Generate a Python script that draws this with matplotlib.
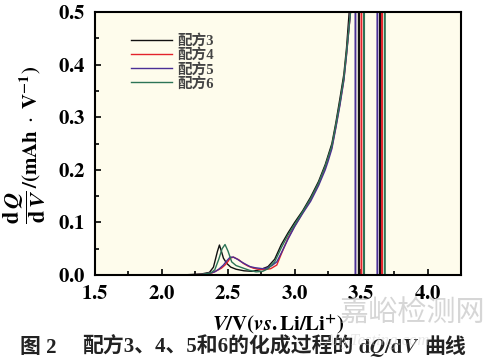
import matplotlib
matplotlib.use("Agg")
import matplotlib.pyplot as plt
from matplotlib.ticker import MultipleLocator, FuncFormatter

plt.rcParams['font.family'] = 'Liberation Serif'
plt.rcParams['mathtext.fontset'] = 'stix'
CJK = ['Liberation Serif', 'Noto Sans CJK SC']

# dQ/dV curves (values above 0.5 are off-scale)
v3 = [2.15, 2.30, 2.36, 2.39, 2.42, 2.435, 2.45, 2.465, 2.49, 2.52, 2.56, 2.62, 2.68, 2.74, 2.80,
      2.85, 2.90, 2.95, 3.00, 3.06, 3.12, 3.18, 3.23, 3.28, 3.31, 3.34, 3.37, 3.39, 3.41, 3.43,
      3.48, 3.48, 3.485, 3.485, 3.64, 3.64, 3.645, 3.645, 3.70]
q3 = [0.0, 0.002, 0.005, 0.015, 0.045, 0.057, 0.045, 0.032, 0.022, 0.015, 0.011, 0.008, 0.007, 0.010, 0.016,
      0.030, 0.058, 0.080, 0.100, 0.122, 0.148, 0.178, 0.210, 0.250, 0.290, 0.335, 0.382, 0.432, 0.500, 0.800,
      2.0, -0.1, -0.1, 2.0, 2.0, -0.1, -0.1, 2.0, 2.0]

v4 = [2.15, 2.30, 2.38, 2.42, 2.45, 2.477, 2.50, 2.515, 2.54, 2.58, 2.615, 2.65, 2.69, 2.73, 2.765,
      2.82, 2.866, 2.90, 2.95, 3.00, 3.06, 3.12, 3.18, 3.23, 3.28, 3.31, 3.34, 3.37, 3.39, 3.42, 3.44,
      3.50, 3.50, 3.504, 3.504, 3.655, 3.655, 3.659, 3.659, 3.70]
q4 = [0.0, 0.001, 0.004, 0.009, 0.013, 0.019, 0.026, 0.032, 0.034, 0.029, 0.022, 0.017, 0.013, 0.011, 0.010,
      0.012, 0.019, 0.040, 0.070, 0.093, 0.118, 0.143, 0.173, 0.205, 0.243, 0.282, 0.325, 0.372, 0.420, 0.500, 0.800,
      2.0, -0.1, -0.1, 2.0, 2.0, -0.1, -0.1, 2.0, 2.0]

v5 = [2.15, 2.30, 2.37, 2.40, 2.43, 2.465, 2.49, 2.515, 2.54, 2.57, 2.60, 2.635, 2.665, 2.70, 2.73,
      2.76, 2.79, 2.83, 2.866, 2.90, 2.95, 3.00, 3.06, 3.12, 3.18, 3.23, 3.25, 3.28, 3.31, 3.34, 3.37,
      3.39, 3.42, 3.44, 3.455, 3.455, 3.459, 3.459, 3.62, 3.62, 3.624, 3.624, 3.70]
q5 = [0.0, 0.001, 0.004, 0.006, 0.011, 0.019, 0.027, 0.034, 0.034, 0.030, 0.025, 0.020, 0.016, 0.014, 0.013,
      0.012, 0.013, 0.018, 0.025, 0.042, 0.068, 0.092, 0.117, 0.140, 0.170, 0.200, 0.215, 0.240, 0.280, 0.322, 0.370,
      0.418, 0.500, 0.800, 2.0, -0.1, -0.1, 2.0, 2.0, -0.1, -0.1, 2.0, 2.0]

v6 = [2.15, 2.30, 2.37, 2.40, 2.43, 2.455, 2.477, 2.50, 2.527, 2.56, 2.615, 2.66, 2.71, 2.76, 2.80,
      2.85, 2.90, 2.95, 3.00, 3.06, 3.12, 3.18, 3.23, 3.28, 3.31, 3.34, 3.37, 3.39, 3.42, 3.44,
      3.52, 3.52, 3.524, 3.524, 3.675, 3.675, 3.679, 3.679, 3.70]
q6 = [0.0, 0.001, 0.004, 0.010, 0.030, 0.050, 0.058, 0.045, 0.025, 0.018, 0.013, 0.009, 0.006, 0.007, 0.012,
      0.025, 0.052, 0.076, 0.096, 0.120, 0.145, 0.175, 0.207, 0.246, 0.285, 0.328, 0.375, 0.423, 0.500, 0.800,
      2.0, -0.1, -0.1, 2.0, 2.0, -0.1, -0.1, 2.0, 2.0]

labels = ['配方3', '配方4', '配方5', '配方6']
colors = ['#111111', '#e3232b', '#4a2f96', '#2c7456']

fig = plt.figure(figsize=(4.89, 3.58), dpi=100)
ax = fig.add_axes([0.1943, 0.2318, 0.7484, 0.7347])
ax.set_facecolor('#fefcec')

for v, q, lab, c in zip([v3, v4, v5, v6], [q3, q4, q5, q6], labels, colors):
    ax.plot(v, q, color=c, lw=1.0, label=lab)

ax.set_xlim(1.5, 4.25)
ax.set_ylim(0, 0.5)
ax.xaxis.set_major_locator(MultipleLocator(0.5))
ax.xaxis.set_minor_locator(MultipleLocator(0.25))
ax.yaxis.set_major_locator(MultipleLocator(0.1))
ax.yaxis.set_minor_locator(MultipleLocator(0.05))
bold_fmt = FuncFormatter(lambda x, p: r'$\mathbf{%.1f}$' % x)
ax.xaxis.set_major_formatter(bold_fmt)
ax.yaxis.set_major_formatter(bold_fmt)
ax.tick_params(which='both', direction='in', width=1.2, labelsize=15, pad=7)
ax.tick_params(which='major', length=4)
ax.tick_params(which='minor', length=3)
for s in ax.spines.values():
    s.set_linewidth(1.5)

leg = ax.legend(loc='upper left', bbox_to_anchor=(0.062, 0.965), frameon=False,
                handlelength=2.8, handletextpad=0.4, labelspacing=0.03,
                prop={'size': 10.5, 'weight': 'bold', 'family': CJK})
for t in leg.get_texts():
    t.set_color('#444444')

ax.set_xlabel(r'$\mathbfit{V}\mathbf{/V(}\mathbfit{vs}\mathbf{.Li/Li^{+})}$', fontsize=15, labelpad=6)

# y label: big fraction plus unit, as two rotated texts
fig.text(25 / 489, 1 - 207 / 358, r'$\dfrac{\mathbf{d}\,\mathbfit{Q}}{\mathbf{d}\,\mathbfit{V}}$',
         fontsize=16, rotation=90, ha='center', va='center')
fig.text(30 / 489, 1 - 188 / 358, r'$\mathbf{/(mAh}\ \cdot\ \mathbf{V^{-1})}$',
         fontsize=15, rotation=90, ha='center', va='bottom')

# caption, built from pieces so the CJK part can use a CJK font
cap_kw = dict(fontsize=15, color='#222222')
fig.text(0.04, 0.015, '图 2', fontweight='bold', family=CJK, **cap_kw)
c1 = fig.text(0.168, 0.015, '配方3、4、5和6的化成过程的', fontweight='bold', family=CJK, **cap_kw)
c2 = fig.text(0, 0, r'$\mathbf{d}\mathbfit{Q}\mathbf{/d}\mathbfit{V}$', **cap_kw)
c3 = fig.text(0, 0, '曲线', fontweight='bold', family=CJK, **cap_kw)
fig.canvas.draw()
r = fig.canvas.get_renderer()
x = c1.get_window_extent(r).x1 / fig.bbox.width + 0.01
c2.set_position((x, 0.015))
x = c2.get_window_extent(r).x1 / fig.bbox.width + 0.01
c3.set_position((x, 0.015))

fig.text(0.695, 0.1, '嘉峪检测网', fontsize=21, family=['Noto Sans CJK SC'],
         color='#bbbbbb', alpha=0.6, zorder=10)
fig.text(0.665, 0.035, 'AnyTesting.com', fontsize=12, style='italic',
         color='#cccccc', alpha=0.45, zorder=10)

fig.savefig('out.png', dpi=100)
